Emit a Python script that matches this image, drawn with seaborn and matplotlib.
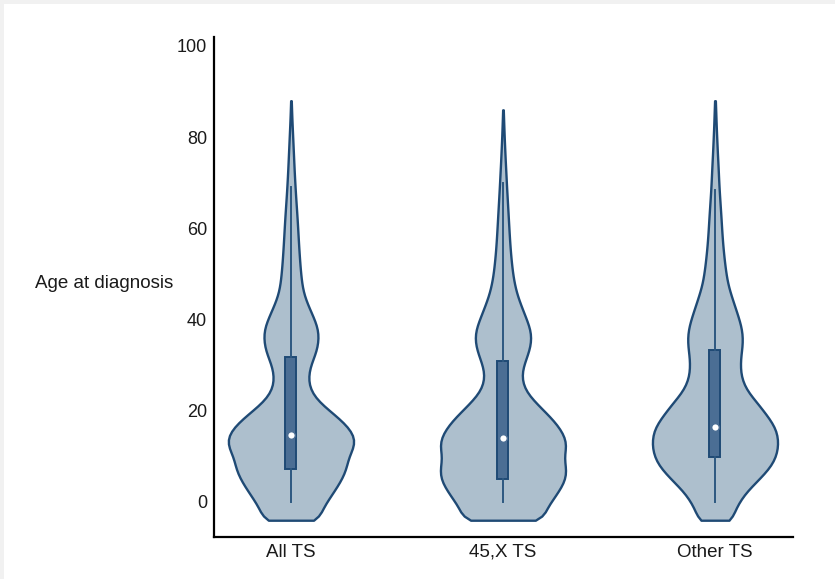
import numpy as np
import pandas as pd
import matplotlib
matplotlib.use("Agg")
import matplotlib.pyplot as plt
from matplotlib.patches import Rectangle
import seaborn as sns

plt.rcParams["font.family"] = ["Liberation Sans", "DejaVu Sans"]

# ---------------- data ----------------
categories = ["All TS", "45,X TS", "Other TS"]

# age grid (years) and relative frequency of diagnoses at each age
ages = [-4, -2, 0, 2, 4, 6, 8, 10, 12, 14, 16, 18, 20, 22, 24, 26, 28, 30,
        32, 34, 36, 38, 40, 42, 44, 46, 48, 50, 52, 54, 56, 58, 60, 62, 64,
        66, 68, 70, 72, 74, 76, 78, 80, 82, 84, 86, 88]

all_ts = [30, 29, 35, 41, 47, 52, 55, 56, 62, 63, 58, 49, 38, 27, 20, 17,
          17, 19, 23, 26, 27, 26.5, 23, 19, 15, 12, 10.5, 9.6, 8.8, 8.2,
          7.6, 7.1, 6.6, 6.1, 5.5, 4.9, 4.3, 3.8, 3.3, 2.9, 2.5, 2.1, 1.7,
          1.3, 0.9, 0.6, 0.3]

x45_ts = [43, 40, 47, 53, 59, 62, 61, 59, 62, 61, 56, 49, 40, 31, 23, 19,
          18, 20, 23.5, 26.5, 27.7, 26.5, 23, 19.5, 16, 13, 11, 9.5, 8.5,
          7.6, 6.9, 6.3, 5.8, 5.3, 4.8, 4.3, 3.8, 3.3, 2.9, 2.4, 2, 1.6,
          1.2, 0.9, 0.6, 0.3, 0]

other_ts = [18, 19, 24, 30, 39, 48, 56, 60.5, 62.5, 62.5, 60.5, 55, 48, 41,
            33, 28, 25.5, 25, 25.5, 27, 27.5, 26.5, 24, 21, 18, 15, 12.5,
            11, 9.8, 8.8, 7.9, 7.2, 6.6, 6.1, 5.5, 4.9, 4.3, 3.8, 3.4, 3,
            2.5, 2.1, 1.7, 1.3, 1.0, 0.7, 0.4]

# box summaries
q1 = [7.2, 5.0, 9.9]
median = [14.7, 14.0, 16.5]
q3 = [31.9, 31.0, 33.3]
whisker_low = [0, 0, 0]
whisker_high = [69, 70, 68.4]

yticks = [0, 20, 40, 60, 80, 100]

# ---------------- build long table ----------------
frames = []
for cat, rel in zip(categories, [all_ts, x45_ts, other_ts]):
    n = np.round(np.array(rel) * 10).astype(int)
    frames.append(pd.DataFrame({"group": cat, "age": np.repeat(ages, n)}))
df = pd.concat(frames, ignore_index=True)

FILL = "#adbfcd"
EDGE = "#1f4a75"
BOXFILL = "#4b6e94"
WHISK = "#2d5880"

fig = plt.figure(figsize=(8.35, 5.79), dpi=100, facecolor="#f1f1f1")
fig.patches.append(Rectangle((4 / 835, 0), 1, 1 - 4 / 579,
                             transform=fig.transFigure, facecolor="white",
                             edgecolor="none", zorder=-10))
ax = fig.add_axes([214 / 835, 42 / 579, 579 / 835, 500 / 579])
ax.set_zorder(1)
ax.patch.set_alpha(0)

sns.violinplot(data=df, x="group", y="age", order=categories, cut=0,
               inner=None, density_norm="width", width=0.59, bw_method=0.09,
               color=FILL, linecolor=EDGE, linewidth=1.7, saturation=1, ax=ax)

pos = np.arange(len(categories))
stats = [dict(med=m, q1=a, q3=b, whislo=lo, whishi=hi, fliers=[])
         for m, a, b, lo, hi in zip(median, q1, q3, whisker_low, whisker_high)]
ax.bxp(stats, positions=pos, widths=0.052, patch_artist=True, showcaps=False,
       showfliers=False, manage_ticks=False,
       boxprops=dict(facecolor=BOXFILL, edgecolor=EDGE, linewidth=1.4),
       whiskerprops=dict(color=WHISK, linewidth=1.4),
       medianprops=dict(linewidth=0))
ax.scatter(pos, median, s=30, color="white", edgecolors=BOXFILL,
           linewidths=1.0, zorder=5)

ax.set_xlim(-0.363, 2.368)
ax.set_ylim(-7.68, 101.97)
ax.set_yticks(yticks)
ax.tick_params(axis="both", length=0, colors="#1a1a1a")
ax.tick_params(axis="y", pad=5, labelsize=13)
ax.tick_params(axis="x", pad=5, labelsize=13.5)
for s in ["top", "right"]:
    ax.spines[s].set_visible(False)
for s in ["left", "bottom"]:
    ax.spines[s].set_linewidth(1.6)
    ax.spines[s].set_color("black")
ax.set_xlabel("")
ax.set_ylabel("Age at diagnosis", rotation=0, ha="right", va="center",
              fontsize=13.5, color="#1a1a1a")
ax.yaxis.set_label_coords(-0.0708, 0.506)

fig.savefig("out.png", dpi=100, facecolor=fig.get_facecolor())
